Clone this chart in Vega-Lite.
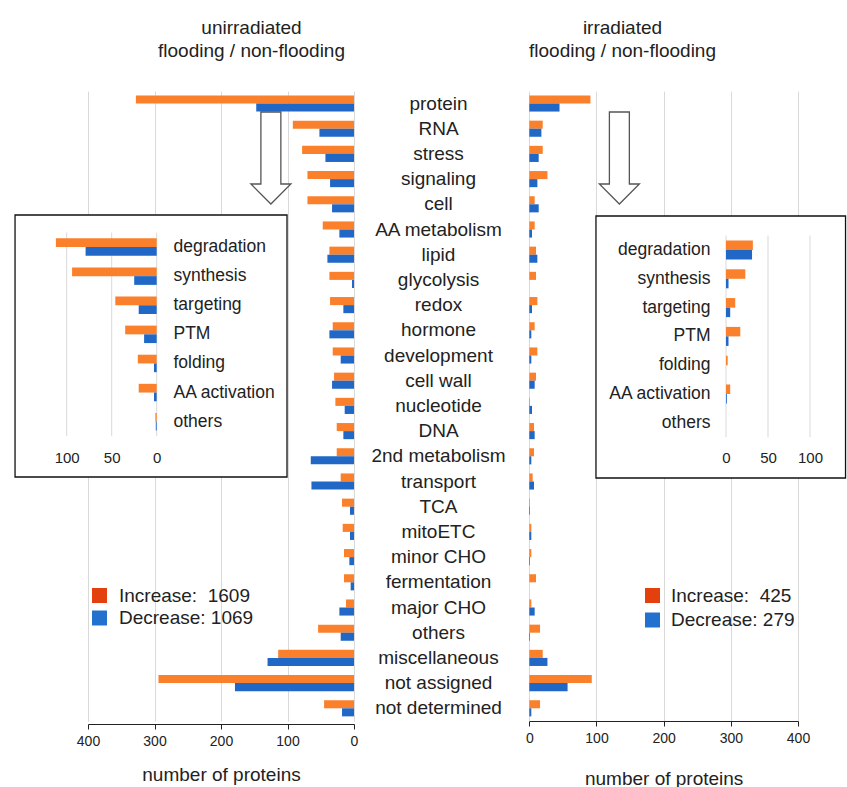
{
  "$schema": "https://vega.github.io/schema/vega-lite/v6.json",
  "width": 847,
  "height": 636,
  "autosize": {"type": "none"},
  "padding": {"top": 88, "left": 0, "right": 0, "bottom": 63},
  "background": "white",
  "config": {
    "view": {"stroke": null},
    "font": "Liberation Sans",
    "axis": {"labelFont": "Liberation Sans", "titleFont": "Liberation Sans", "labelColor": "#222", "titleColor": "#222", "titleFontWeight": "normal"},
    "legend": {"labelFont": "Liberation Sans"}
  },
  "datasets": {
    "main": [
      {"cat": "protein", "s": "Increase", "uni": 328, "irr": 91},
      {"cat": "protein", "s": "Decrease", "uni": 147, "irr": 45},
      {"cat": "RNA", "s": "Increase", "uni": 92, "irr": 20},
      {"cat": "RNA", "s": "Decrease", "uni": 52, "irr": 18},
      {"cat": "stress", "s": "Increase", "uni": 78, "irr": 20},
      {"cat": "stress", "s": "Decrease", "uni": 43, "irr": 14},
      {"cat": "signaling", "s": "Increase", "uni": 70, "irr": 27},
      {"cat": "signaling", "s": "Decrease", "uni": 36, "irr": 12},
      {"cat": "cell", "s": "Increase", "uni": 70, "irr": 8},
      {"cat": "cell", "s": "Decrease", "uni": 33, "irr": 14},
      {"cat": "AA metabolism", "s": "Increase", "uni": 47, "irr": 8},
      {"cat": "AA metabolism", "s": "Decrease", "uni": 22, "irr": 4},
      {"cat": "lipid", "s": "Increase", "uni": 37, "irr": 10},
      {"cat": "lipid", "s": "Decrease", "uni": 40, "irr": 12},
      {"cat": "glycolysis", "s": "Increase", "uni": 37, "irr": 10},
      {"cat": "glycolysis", "s": "Decrease", "uni": 3, "irr": 0},
      {"cat": "redox", "s": "Increase", "uni": 36, "irr": 12},
      {"cat": "redox", "s": "Decrease", "uni": 16, "irr": 4},
      {"cat": "hormone", "s": "Increase", "uni": 32, "irr": 8},
      {"cat": "hormone", "s": "Decrease", "uni": 37, "irr": 3},
      {"cat": "development", "s": "Increase", "uni": 32, "irr": 12},
      {"cat": "development", "s": "Decrease", "uni": 20, "irr": 3},
      {"cat": "cell wall", "s": "Increase", "uni": 30, "irr": 10},
      {"cat": "cell wall", "s": "Decrease", "uni": 33, "irr": 8},
      {"cat": "nucleotide", "s": "Increase", "uni": 28, "irr": 1},
      {"cat": "nucleotide", "s": "Decrease", "uni": 14, "irr": 4},
      {"cat": "DNA", "s": "Increase", "uni": 26, "irr": 7},
      {"cat": "DNA", "s": "Decrease", "uni": 16, "irr": 8},
      {"cat": "2nd metabolism", "s": "Increase", "uni": 26, "irr": 7},
      {"cat": "2nd metabolism", "s": "Decrease", "uni": 65, "irr": 3},
      {"cat": "transport", "s": "Increase", "uni": 20, "irr": 5},
      {"cat": "transport", "s": "Decrease", "uni": 64, "irr": 7},
      {"cat": "TCA", "s": "Increase", "uni": 18, "irr": 1},
      {"cat": "TCA", "s": "Decrease", "uni": 6, "irr": 1},
      {"cat": "mitoETC", "s": "Increase", "uni": 17, "irr": 3},
      {"cat": "mitoETC", "s": "Decrease", "uni": 6, "irr": 3},
      {"cat": "minor CHO", "s": "Increase", "uni": 15, "irr": 3},
      {"cat": "minor CHO", "s": "Decrease", "uni": 7, "irr": 1},
      {"cat": "fermentation", "s": "Increase", "uni": 15, "irr": 10},
      {"cat": "fermentation", "s": "Decrease", "uni": 5, "irr": 0},
      {"cat": "major CHO", "s": "Increase", "uni": 12, "irr": 3},
      {"cat": "major CHO", "s": "Decrease", "uni": 22, "irr": 8},
      {"cat": "others", "s": "Increase", "uni": 54, "irr": 16},
      {"cat": "others", "s": "Decrease", "uni": 20, "irr": 1},
      {"cat": "miscellaneous", "s": "Increase", "uni": 114, "irr": 20},
      {"cat": "miscellaneous", "s": "Decrease", "uni": 130, "irr": 27},
      {"cat": "not assigned", "s": "Increase", "uni": 294, "irr": 93},
      {"cat": "not assigned", "s": "Decrease", "uni": 179, "irr": 57},
      {"cat": "not determined", "s": "Increase", "uni": 45, "irr": 16},
      {"cat": "not determined", "s": "Decrease", "uni": 18, "irr": 3}
    ],
    "inset": [
      {"sub": "degradation", "s": "Increase", "uni": 112, "irr": 32},
      {"sub": "degradation", "s": "Decrease", "uni": 79, "irr": 31},
      {"sub": "synthesis", "s": "Increase", "uni": 94, "irr": 23},
      {"sub": "synthesis", "s": "Decrease", "uni": 25, "irr": 3},
      {"sub": "targeting", "s": "Increase", "uni": 46, "irr": 11},
      {"sub": "targeting", "s": "Decrease", "uni": 20, "irr": 5},
      {"sub": "PTM", "s": "Increase", "uni": 35, "irr": 17},
      {"sub": "PTM", "s": "Decrease", "uni": 14, "irr": 3},
      {"sub": "folding", "s": "Increase", "uni": 21, "irr": 2},
      {"sub": "folding", "s": "Decrease", "uni": 3, "irr": 0},
      {"sub": "AA activation", "s": "Increase", "uni": 20, "irr": 5},
      {"sub": "AA activation", "s": "Decrease", "uni": 3, "irr": 1},
      {"sub": "others", "s": "Increase", "uni": 1.5, "irr": 0},
      {"sub": "others", "s": "Decrease", "uni": 1, "irr": 0}
    ],
    "insetGrid": [{"g": 0}, {"g": 50}, {"g": 100}]
  },
  "layer": [
    {
      "data": {"name": "main"},
      "mark": {"type": "bar"},
      "encoding": {
        "x": {"field": "uni", "type": "quantitative",
          "scale": {"domain": [0, 400], "range": [354, 88], "nice": false},
          "axis": {"orient": "bottom", "offset": 0, "values": [0, 100, 200, 300, 400], "grid": true, "gridColor": "#d9d9d9", "domainColor": "#222", "tickColor": "#222", "tickSize": 5, "labelFontSize": 14, "labelPadding": 5, "labelFlush": false, "title": "number of proteins", "titleFontSize": 19, "titlePadding": 17}},
        "y": {"field": "cat", "type": "nominal",
          "scale": {"domain": ["protein","RNA","stress","signaling","cell","AA metabolism","lipid","glycolysis","redox","hormone","development","cell wall","nucleotide","DNA","2nd metabolism","transport","TCA","mitoETC","minor CHO","fermentation","major CHO","others","miscellaneous","not assigned","not determined"], "range": [2.9, 632.9], "paddingInner": 0.36, "paddingOuter": 0.18},
          "axis": {"orient": "left", "offset": -438, "domain": false, "ticks": false, "tickSize": 0, "grid": false, "labelPadding": 0, "labelAlign": "center", "labelFontSize": 19, "labelLimit": 300, "title": null}},
        "yOffset": {"field": "s", "type": "nominal", "scale": {"domain": ["Increase", "Decrease"]}},
        "color": {"field": "s", "type": "nominal", "scale": {"domain": ["Increase", "Decrease"], "range": ["#fa802c", "#2168c6"]}, "legend": null}
      }
    },
    {
      "data": {"name": "main"},
      "mark": {"type": "bar"},
      "encoding": {
        "x": {"field": "irr", "type": "quantitative",
          "scale": {"domain": [0, 400], "range": [529.3, 798], "nice": false},
          "axis": {"orient": "bottom", "offset": -3, "values": [0, 100, 200, 300, 400], "grid": true, "gridColor": "#d9d9d9", "domainColor": "#222", "tickColor": "#222", "tickSize": 5, "labelFontSize": 14, "labelPadding": 5, "labelFlush": false, "title": "number of proteins", "titleFontSize": 19, "titlePadding": 24}},
        "y": {"field": "cat", "type": "nominal",
          "scale": {"domain": ["protein","RNA","stress","signaling","cell","AA metabolism","lipid","glycolysis","redox","hormone","development","cell wall","nucleotide","DNA","2nd metabolism","transport","TCA","mitoETC","minor CHO","fermentation","major CHO","others","miscellaneous","not assigned","not determined"], "range": [2.9, 632.9], "paddingInner": 0.36, "paddingOuter": 0.18},
          "axis": null},
        "yOffset": {"field": "s", "type": "nominal", "scale": {"domain": ["Increase", "Decrease"]}},
        "color": {"field": "s", "type": "nominal", "scale": {"domain": ["Increase", "Decrease"], "range": ["#fa802c", "#2168c6"]}, "legend": null}
      }
    },
    {
      "data": {"values": [{"box": "left"}]},
      "mark": {"type": "rect", "fill": "white", "stroke": "#111", "strokeWidth": 1.3},
      "encoding": {
        "x": {"datum": 157.4, "type": "quantitative", "scale": {"domain": [0, 100], "range": [156.7, 66.7], "nice": false}, "axis": null},
        "x2": {"datum": -144.8},
        "y": {"datum": "degradation", "type": "nominal", "bandPosition": -1.336,
          "scale": {"domain": ["degradation","synthesis","targeting","PTM","folding","AA activation","others"], "range": [144.5, 348.2], "paddingInner": 0.4, "paddingOuter": 0.2}, "axis": null},
        "y2": {"datum": "others", "bandPosition": 3.67}
      }
    },
    {
      "data": {"values": [{"box": "right"}]},
      "mark": {"type": "rect", "fill": "white", "stroke": "#111", "strokeWidth": 1.3},
      "encoding": {
        "x": {"datum": -154.8, "type": "quantitative", "scale": {"domain": [0, 100], "range": [726, 810], "nice": false}, "axis": null},
        "x2": {"datum": 142.3},
        "y": {"datum": "degradation", "type": "nominal", "bandPosition": -1.29,
          "scale": {"domain": ["degradation","synthesis","targeting","PTM","folding","AA activation","others"], "range": [147.6, 349.2], "paddingInner": 0.34, "paddingOuter": 0.17}, "axis": null},
        "y2": {"datum": "others", "bandPosition": 3.405}
      }
    },
    {
      "data": {"name": "insetGrid"},
      "mark": {"type": "rule", "color": "#d9d9d9", "strokeWidth": 1},
      "encoding": {
        "x": {"field": "g", "type": "quantitative", "scale": {"domain": [0, 100], "range": [156.7, 66.7], "nice": false}, "axis": null},
        "y": {"datum": "degradation", "type": "nominal", "bandPosition": -0.333,
          "scale": {"domain": ["degradation","synthesis","targeting","PTM","folding","AA activation","others"], "range": [144.5, 348.2], "paddingInner": 0.4, "paddingOuter": 0.2}, "axis": null},
        "y2": {"datum": "others", "bandPosition": 1.333}
      }
    },
    {
      "data": {"name": "insetGrid"},
      "mark": {"type": "rule", "color": "#d9d9d9", "strokeWidth": 1},
      "encoding": {
        "x": {"field": "g", "type": "quantitative", "scale": {"domain": [0, 100], "range": [726, 810], "nice": false}, "axis": null},
        "y": {"datum": "degradation", "type": "nominal", "bandPosition": -0.258,
          "scale": {"domain": ["degradation","synthesis","targeting","PTM","folding","AA activation","others"], "range": [147.6, 349.2], "paddingInner": 0.34, "paddingOuter": 0.17}, "axis": null},
        "y2": {"datum": "others", "bandPosition": 1.258}
      }
    },
    {
      "data": {"name": "inset"},
      "mark": {"type": "bar"},
      "encoding": {
        "x": {"field": "uni", "type": "quantitative",
          "scale": {"domain": [0, 100], "range": [156.7, 66.7], "nice": false},
          "axis": {"orient": "bottom", "offset": -282, "zindex": 2, "values": [0, 50, 100], "grid": false, "domain": false, "ticks": false, "tickSize": 0, "labelPadding": 8, "labelFontSize": 15, "labelFlush": false, "title": null}},
        "y": {"field": "sub", "type": "nominal",
          "scale": {"domain": ["degradation","synthesis","targeting","PTM","folding","AA activation","others"], "range": [144.5, 348.2], "paddingInner": 0.4, "paddingOuter": 0.2},
          "axis": {"orient": "left", "offset": -173, "zindex": 2, "domain": false, "ticks": false, "tickSize": 0, "grid": false, "labelPadding": 0, "labelAlign": "left", "labelFontSize": 17.5, "labelLimit": 300, "title": null}},
        "yOffset": {"field": "s", "type": "nominal", "scale": {"domain": ["Increase", "Decrease"]}},
        "color": {"field": "s", "type": "nominal", "scale": {"domain": ["Increase", "Decrease"], "range": ["#fa802c", "#2168c6"]}, "legend": null}
      }
    },
    {
      "data": {"name": "inset"},
      "mark": {"type": "bar"},
      "encoding": {
        "x": {"field": "irr", "type": "quantitative",
          "scale": {"domain": [0, 100], "range": [726, 810], "nice": false},
          "axis": {"orient": "bottom", "offset": -282, "zindex": 2, "values": [0, 50, 100], "grid": false, "domain": false, "ticks": false, "tickSize": 0, "labelPadding": 8, "labelFontSize": 15, "labelFlush": false, "title": null}},
        "y": {"field": "sub", "type": "nominal",
          "scale": {"domain": ["degradation","synthesis","targeting","PTM","folding","AA activation","others"], "range": [147.6, 349.2], "paddingInner": 0.34, "paddingOuter": 0.17},
          "axis": {"orient": "left", "offset": -710, "zindex": 2, "domain": false, "ticks": false, "tickSize": 0, "grid": false, "labelPadding": 0, "labelAlign": "right", "labelFontSize": 17.5, "labelLimit": 300, "title": null}},
        "yOffset": {"field": "s", "type": "nominal", "scale": {"domain": ["Increase", "Decrease"]}},
        "color": {"field": "s", "type": "nominal", "scale": {"domain": ["Increase", "Decrease"], "range": ["#fa802c", "#2168c6"]}, "legend": null}
      }
    },
    {
      "data": {"values": [{"arrow": "left"}]},
      "mark": {"type": "point", "shape": "M -0.217 -0.911 L 0.217 -0.911 L 0.217 0.654 L 0.435 0.654 L 0 1.089 L -0.435 0.654 L -0.217 0.654 Z", "size": 8464, "filled": true, "fill": "white", "stroke": "#555", "strokeWidth": 1.3, "opacity": 1},
      "encoding": {
        "x": {"datum": 125, "type": "quantitative",
          "scale": {"domain": [0, 400], "range": [354, 88], "nice": false},
          "axis": {"orient": "top", "labels": false, "ticks": false, "domain": false, "grid": false, "title": ["unirradiated", "flooding / non-flooding"], "titleFontSize": 19, "titleLineHeight": 23, "titleX": 251, "titleY": -51, "titleBaseline": "bottom", "titleAlign": "center"}},
        "y": {"datum": "stress", "type": "nominal",
          "scale": {"domain": ["protein","RNA","stress","signaling","cell","AA metabolism","lipid","glycolysis","redox","hormone","development","cell wall","nucleotide","DNA","2nd metabolism","transport","TCA","mitoETC","minor CHO","fermentation","major CHO","others","miscellaneous","not assigned","not determined"], "range": [2.9, 632.9], "paddingInner": 0.36, "paddingOuter": 0.18},
          "axis": null}
      }
    },
    {
      "data": {"values": [{"arrow": "right"}]},
      "mark": {"type": "point", "shape": "M -0.217 -0.911 L 0.217 -0.911 L 0.217 0.654 L 0.435 0.654 L 0 1.089 L -0.435 0.654 L -0.217 0.654 Z", "size": 8464, "filled": true, "fill": "white", "stroke": "#555", "strokeWidth": 1.3, "opacity": 1},
      "encoding": {
        "x": {"datum": 134.1, "type": "quantitative",
          "scale": {"domain": [0, 400], "range": [529.3, 798], "nice": false},
          "axis": {"orient": "top", "labels": false, "ticks": false, "domain": false, "grid": false, "title": ["irradiated", "flooding / non-flooding"], "titleFontSize": 19, "titleLineHeight": 23, "titleX": 622, "titleY": -51, "titleBaseline": "bottom", "titleAlign": "center"}},
        "y": {"datum": "stress", "type": "nominal",
          "scale": {"domain": ["protein","RNA","stress","signaling","cell","AA metabolism","lipid","glycolysis","redox","hormone","development","cell wall","nucleotide","DNA","2nd metabolism","transport","TCA","mitoETC","minor CHO","fermentation","major CHO","others","miscellaneous","not assigned","not determined"], "range": [2.9, 632.9], "paddingInner": 0.36, "paddingOuter": 0.18},
          "axis": null}
      }
    },
    {
      "data": {"values": [{"k": "Increase:\u00a0 1609"}, {"k": "Decrease: 1069"}]},
      "mark": {"type": "text", "text": ""},
      "encoding": {
        "color": {"field": "k", "type": "nominal",
          "scale": {"domain": ["Increase:\u00a0 1609", "Decrease: 1069"], "range": ["#e3400e", "#2271cf"]},
          "legend": {"orient": "none", "legendX": 90, "legendY": 498, "title": null, "symbolType": "square", "symbolSize": 225, "symbolStrokeWidth": 0, "labelFontSize": 19, "labelColor": "#222", "labelOffset": 10, "rowPadding": 2.5, "padding": 0, "labelLimit": 300}}
      }
    },
    {
      "data": {"values": [{"k": "Increase:\u00a0 425"}, {"k": "Decrease: 279"}]},
      "mark": {"type": "text", "text": ""},
      "encoding": {
        "color": {"field": "k", "type": "nominal",
          "scale": {"domain": ["Increase:\u00a0 425", "Decrease: 279"], "range": ["#e3400e", "#2271cf"]},
          "legend": {"orient": "none", "legendX": 643, "legendY": 498, "title": null, "symbolType": "square", "symbolSize": 225, "symbolStrokeWidth": 0, "labelFontSize": 19, "labelColor": "#222", "labelOffset": 9, "rowPadding": 4.5, "padding": 0, "labelLimit": 300}}
      }
    }
  ],
  "resolve": {
    "scale": {"x": "independent", "y": "independent", "yOffset": "independent", "color": "independent"},
    "axis": {"x": "independent", "y": "independent"},
    "legend": {"color": "independent"}
  }
}
